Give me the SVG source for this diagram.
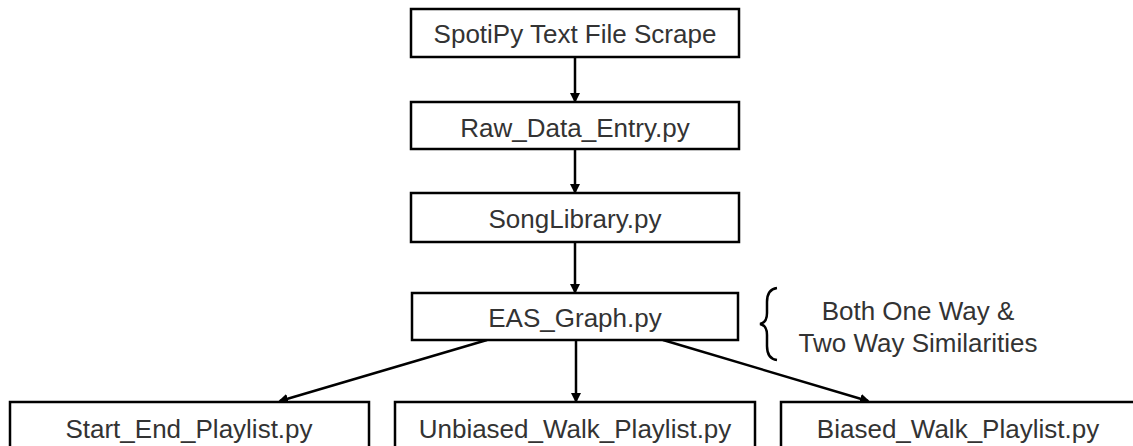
<svg xmlns="http://www.w3.org/2000/svg" width="1133" height="446" viewBox="0 0 1133 446">
<defs>
<style>
.box{fill:#fff;stroke:#000;stroke-width:2.5}
.lbl{font-family:"Liberation Sans",Arial,sans-serif;font-size:26px;fill:#333;text-anchor:middle}
.conn{stroke:#000;stroke-width:2.5;fill:none;marker-end:url(#ah)}
</style>
<marker id="ah" markerWidth="10" markerHeight="10" refX="8" refY="5" orient="auto" markerUnits="userSpaceOnUse">
<path d="M0,0 L10,5 L0,10 Z" fill="#000"/>
</marker>
</defs>
<rect width="1133" height="446" fill="#fff"/>
<g id="connectors">
<line class="conn" x1="575" y1="57" x2="575" y2="101"/>
<line class="conn" x1="575" y1="149" x2="575" y2="192"/>
<line class="conn" x1="575" y1="242" x2="575" y2="292"/>
<line class="conn" x1="487" y1="340" x2="280" y2="401"/>
<line class="conn" x1="576" y1="340" x2="576" y2="401"/>
<line class="conn" x1="663" y1="340" x2="868" y2="401"/>
</g>
<g id="n1"><rect class="box" x="411" y="9" width="328" height="48"/><text class="lbl" x="575" y="43">SpotiPy Text File Scrape</text></g>
<g id="n2"><rect class="box" x="411" y="102" width="328" height="47"/><text class="lbl" x="575" y="137">Raw_Data_Entry.py</text></g>
<g id="n3"><rect class="box" x="411" y="193" width="328" height="49"/><text class="lbl" x="575" y="228">SongLibrary.py</text></g>
<g id="n4"><rect class="box" x="412" y="293" width="326" height="47"/><text class="lbl" x="575" y="327">EAS_Graph.py</text></g>
<g id="n5"><rect class="box" x="10" y="402" width="359" height="60"/><text class="lbl" x="189" y="438">Start_End_Playlist.py</text></g>
<g id="n6"><rect class="box" x="395" y="402" width="360" height="60"/><text class="lbl" x="575" y="438">Unbiased_Walk_Playlist.py</text></g>
<g id="n7"><rect class="box" x="781" y="402" width="370" height="60"/><text class="lbl" x="958" y="438">Biased_Walk_Playlist.py</text></g>
<g id="note">
<path d="M777,288 C769,289 767,295 767,302 L767,313 C767,319 765,323 760,324 C765,325 767,329 767,335 L767,346 C767,353 769,359 777,360" fill="none" stroke="#000" stroke-width="2.5"/>
<text class="lbl" x="918" y="320">Both One Way &amp;</text>
<text class="lbl" x="918" y="352">Two Way Similarities</text>
</g>
</svg>
